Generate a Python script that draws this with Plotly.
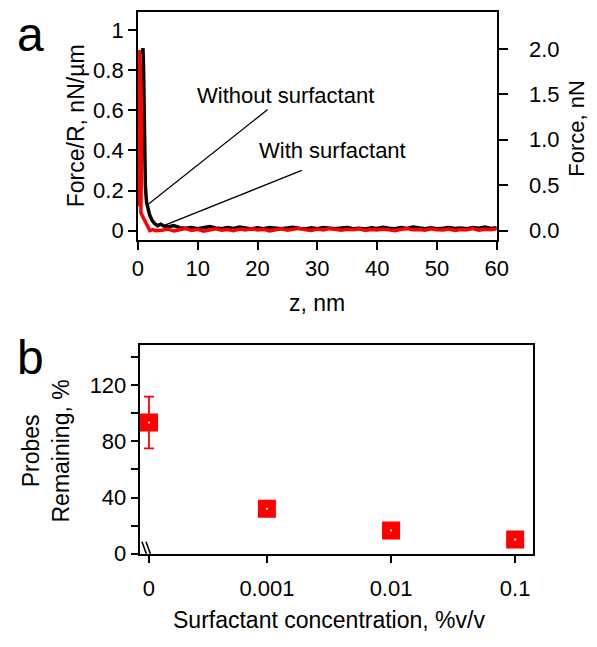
import math
import plotly.graph_objects as go

# ---------------- Panel a data ----------------
z_without = [0.75, 0.85, 0.95, 1.0, 1.05, 1.1, 1.15, 1.25, 1.45, 1.7, 2.0, 2.4, 2.8, 3.3, 3.8, 4.3,
             5, 6, 7, 8, 9, 10, 11, 12, 13, 14, 15, 16, 17, 18, 19, 20, 21, 22, 23, 24, 25, 26, 27, 28, 29,
             30, 31, 32, 33, 34, 35, 36, 37, 38, 39, 40, 41, 42, 43, 44, 45, 46, 47, 48, 49, 50,
             51, 52, 53, 54, 55, 56, 57, 58, 59, 60]
f_without = [0.88, 0.91, 0.80, 0.65, 0.50, 0.38, 0.28, 0.22, 0.14, 0.10, 0.075, 0.05, 0.035, 0.025, 0.032, 0.024,
             0.018, 0.025, 0.015, 0.012, 0.016, 0.010, 0.014, 0.020, 0.013, 0.009, 0.015, 0.011, 0.018, 0.012,
             0.008, 0.014, 0.010, 0.016, 0.012, 0.009, 0.013, 0.017, 0.011, 0.008, 0.014, 0.010, 0.015, 0.012,
             0.009, 0.013, 0.016, 0.010, 0.012, 0.008, 0.014, 0.011, 0.017, 0.012, 0.009, 0.015, 0.011, 0.018,
             0.013, 0.010, 0.014, 0.009, 0.012, 0.016, 0.011, 0.013, 0.010, 0.015, 0.012, 0.018, 0.011, 0.014]

z_with = [0.1, 0.15, 0.2, 0.25, 0.35, 0.45, 0.55, 0.6, 0.65, 0.6, 0.55, 0.45, 0.4, 0.5, 0.8, 1.1, 1.4, 1.7,
          2.0, 2.5, 3, 4, 5, 6, 7, 8, 9, 10, 11, 12, 13, 14, 15, 16, 17, 18, 19, 20, 21, 22, 23, 24, 25, 26,
          27, 28, 29, 30, 31, 32, 33, 34, 35, 36, 37, 38, 39, 40, 41, 42, 43, 44, 45, 46, 47, 48, 49, 50,
          51, 52, 53, 54, 55, 56, 57, 58, 59, 60]
f_with = [0.12, 0.45, 0.85, 0.90, 0.86, 0.78, 0.70, 0.60, 0.50, 0.40, 0.30, 0.22, 0.15, 0.09, 0.07, 0.05, 0.03, 0.01,
          0.000, 0.005, 0.000, 0.002, 0.008, -0.002, 0.006, 0.010, 0.001, 0.007, -0.003, 0.005, 0.009, 0.002,
          0.006, 0.000, 0.008, 0.004, 0.011, 0.003, 0.007, -0.001, 0.006, 0.009, 0.002, 0.005, 0.012, 0.004,
          0.001, 0.008, 0.003, 0.010, 0.006, 0.002, 0.007, 0.004, 0.009, 0.001, 0.006, 0.003, 0.008, 0.005,
          0.000, 0.007, 0.010, 0.004, 0.006, 0.002, 0.009, 0.005, 0.003, 0.008, 0.001, 0.006, 0.004, 0.010,
          0.002, 0.007, 0.005, 0.009]

a_yticks = [0, 0.2, 0.4, 0.6, 0.8, 1]
a_yticktext = ["0", "0.2", "0.4", "0.6", "0.8", "1"]
a_y2ticks = [0.0, 0.5, 1.0, 1.5, 2.0]
a_xticks = [0, 10, 20, 30, 40, 50, 60]

# ---------------- Panel b data ----------------
conc = [0, 0.001, 0.01, 0.1]
conc_labels = ["0", "0.001", "0.01", "0.1"]
remaining = [93.5, 32, 16.5, 10]
remaining_err = [18.5, 5, 3, 2]
b_yticks = [0, 20, 40, 60, 80, 100, 120, 140]
b_yticktext = ["0", "", "40", "", "80", "", "120", ""]

ZERO_POS = -3.95   # position of the broken-axis "0" category
conc_pos = [math.log10(c) if c > 0 else ZERO_POS for c in conc]

FONT = "Arial, Liberation Sans, sans-serif"
W, H = 597, 647

fig = go.Figure()
fig.add_trace(go.Scatter(x=z_without, y=f_without, mode="lines",
                         line=dict(color="#000000", width=3.5), xaxis="x", yaxis="y", showlegend=False))
fig.add_trace(go.Scatter(x=z_with, y=f_with, mode="lines",
                         line=dict(color="#ff0000", width=3.5), xaxis="x", yaxis="y", showlegend=False))
# invisible trace to activate right axis
fig.add_trace(go.Scatter(x=[None], y=[None], xaxis="x", yaxis="y2", showlegend=False))

fig.add_trace(go.Scatter(x=conc_pos, y=remaining, mode="markers",
                         error_y=dict(type="data", array=remaining_err, color="#ff0000", thickness=1.8, width=5),
                         marker=dict(symbol="square", size=10, color="#ffffff",
                                     line=dict(color="#ff0000", width=8)),
                         xaxis="x2", yaxis="y3", showlegend=False))

axis_common = dict(showgrid=False, zeroline=False, showline=True, linecolor="#000", linewidth=1.6,
                   ticks="outside", tickcolor="#000", tickwidth=1.6,
                   tickfont=dict(family=FONT, size=22, color="#000"))

xa_dom = [136 / W, 506 / W]
ya_dom = [1 - 245 / H, 1 - 12 / H]
xb_dom = [137.7 / W, 543.3 / W]
yb_dom = [1 - 565 / H, 1 - 352.3 / H]

fig.update_layout(
    width=W, height=H, margin=dict(l=0, r=0, t=0, b=0),
    paper_bgcolor="white", plot_bgcolor="white",
    font=dict(family=FONT, size=22, color="#000"),
    xaxis=dict(axis_common, domain=xa_dom, range=[0, 60], tickvals=a_xticks, ticklen=8, mirror=True,
               anchor="y", ticklabelstandoff=0),
    yaxis=dict(axis_common, domain=ya_dom, range=[-0.047, 1.091], tickvals=a_yticks, ticktext=a_yticktext,
               ticklen=8, anchor="x"),
    yaxis2=dict(axis_common, domain=ya_dom, range=[-0.104, 2.409], tickvals=a_y2ticks,
                tickformat=".1f", ticklen=9, overlaying="y", side="right", anchor="x", ticklabelstandoff=17),
    xaxis2=dict(axis_common, domain=xb_dom, range=[-4.026, -0.857], tickvals=conc_pos, ticktext=conc_labels,
                ticklen=8, mirror=True, anchor="y3", ticklabelstandoff=6),
    yaxis3=dict(axis_common, domain=yb_dom, range=[0, 148.6], tickvals=b_yticks, ticktext=b_yticktext,
                ticklen=7, mirror=True, anchor="x2"),
)

ann = []
def txt(text, x, y, size=23, angle=0):
    ann.append(dict(text=text, x=x / W, y=1 - y / H, xref="paper", yref="paper", showarrow=False,
                    textangle=angle, font=dict(family=FONT, size=size, color="#000"),
                    xanchor="center", yanchor="middle"))

txt("Force/R, nN/µm", 73, 128, angle=-90)
txt("Force, nN", 588, 131, size=22, angle=-90)
txt("z, nm", 321, 309)
txt("Probes<br>Remaining, %", 41, 460, angle=-90)
txt("Surfactant concentration, %v/v", 333, 633)
txt("a", 25, 35, size=48)
txt("b", 25, 365, size=48)

# curve labels (data coordinates)
ann.append(dict(text="Without surfactant", x=24.6, y=0.672, xref="x", yref="y", showarrow=False,
                font=dict(family=FONT, size=22, color="#000")))
ann.append(dict(text="With surfactant", x=32.5, y=0.40, xref="x", yref="y", showarrow=False,
                font=dict(family=FONT, size=22, color="#000")))
fig.update_layout(annotations=ann)

shapes = [
    dict(type="line", xref="x", yref="y", x0=1.73, y0=0.132, x1=21.7, y1=0.604,
         line=dict(color="#000", width=1.3)),
    dict(type="line", xref="x", yref="y", x0=4.43, y0=0.026, x1=27.4, y1=0.30,
         line=dict(color="#000", width=1.3)),
]
# axis-break marks on panel b
for dx in (-2, 2):
    shapes.append(dict(type="line", xref="x2", yref="y3", xsizemode="pixel", ysizemode="pixel",
                       xanchor=ZERO_POS, yanchor=0, x0=-5 + dx, y0=12, x1=4 + dx, y1=-13,
                       line=dict(color="#000", width=1.6)))
fig.update_layout(shapes=shapes)

fig.write_html("out.html", config={"displayModeBar": False},
               post_script="document.body.style.margin='0';")
